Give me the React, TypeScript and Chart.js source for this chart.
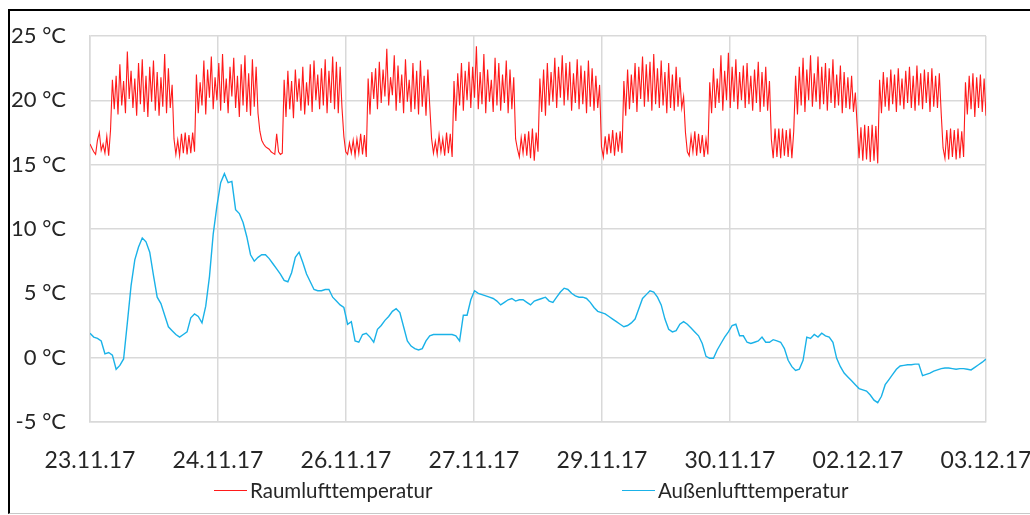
import React, { useEffect, useRef } from "react";
import { Chart, registerables } from "chart.js";

Chart.register(...registerables);

// X-axis tick labels (evenly spaced across the 240-hour span)
const xTickLabels = [
  "23.11.17",
  "24.11.17",
  "26.11.17",
  "27.11.17",
  "29.11.17",
  "30.11.17",
  "02.12.17",
  "03.12.17",
];

const TOTAL_HOURS = 240;
const Y_MIN = -5;
const Y_MAX = 25;
const Y_STEP = 5;

const seriesNames = ["Raumlufttemperatur", "Außenlufttemperatur"];
const seriesColors = ["#ff1a1a", "#1ab2e8"];

// Raumlufttemperatur, half-hourly samples (°C)
const raumluft = [
  // night 23.11.
  16.6, 16.3, 16.0, 15.8, 16.9, 17.5, 16.1, 16.6, 15.9, 17.2, 15.7, 17.7,
  // day
  21.6, 19.3, 21.9, 18.9, 22.8, 19.6, 21.5, 19.0, 23.8, 20.1, 22.3, 19.4, 21.7, 18.8, 22.9, 19.7,
  23.2, 19.1, 21.9, 18.7, 22.6, 19.9, 23.1, 19.2, 22.2, 18.8, 21.8, 19.5, 23.6, 19.0, 22.5, 19.4, 21.2,
  // night
  17.0, 15.8, 16.9, 15.7, 17.4, 15.9, 17.5, 15.8, 17.3, 15.9, 17.5, 16.0,
  // day
  22.0, 19.0, 21.4, 19.6, 23.1, 18.9, 22.4, 20.2, 23.4, 19.3, 21.8, 20.0, 22.9, 19.2, 23.6, 19.8,
  21.7, 19.0, 22.6, 20.3, 23.3, 19.4, 21.9, 18.7, 22.8, 19.6, 23.5, 19.1, 22.1, 18.8, 23.2, 19.5, 22.6, 19.0,
  // night
  17.6, 16.9, 16.6, 16.4, 16.3, 16.2, 16.0, 15.9, 15.8, 17.4, 16.0, 15.8, 15.9,
  // day
  21.6, 18.7, 22.3, 19.3, 21.5, 18.6, 22.4, 19.9, 21.7, 19.2, 22.6, 18.9, 21.4, 19.6, 22.8, 19.1,
  23.1, 20.0, 22.0, 19.3, 22.5, 19.6, 23.2, 19.0, 22.3, 19.8, 23.4, 19.3, 23.0, 19.0, 22.6, 19.4,
  // night
  17.2, 16.0, 15.8, 16.7, 15.9, 16.9, 15.7, 17.0, 15.9, 17.4, 15.8, 17.3, 15.6,
  // day
  21.7, 18.9, 22.2, 20.1, 22.5, 19.3, 23.0, 19.8, 22.4, 20.3, 24.0, 19.6, 21.8, 20.4, 23.5, 19.2,
  22.7, 19.8, 22.0, 19.0, 23.2, 19.9, 21.6, 19.1, 22.9, 19.3, 22.3, 18.9, 23.1, 19.5, 21.9, 18.8, 22.4, 19.6,
  // night
  17.0, 15.9, 16.8, 15.8, 17.3, 16.0, 17.0, 15.7, 17.5, 15.9, 17.4, 15.6,
  // day
  21.5, 18.4, 22.1, 19.6, 22.9, 19.2, 22.3, 20.0, 23.0, 19.4, 22.6, 20.2, 24.2, 19.3, 22.2, 19.7,
  23.6, 19.0, 22.4, 19.9, 21.6, 19.1, 23.3, 19.6, 22.9, 19.2, 22.0, 19.8, 23.1, 19.0, 22.4, 19.3, 21.8,
  // night
  17.0, 16.2, 15.6, 17.1, 15.9, 17.4, 15.7, 17.6, 15.5, 17.8, 15.3, 17.5, 16.0,
  // day
  21.7, 19.1, 22.4, 18.8, 22.9, 19.6, 22.2, 19.9, 23.3, 19.4, 22.6, 20.2, 23.5, 19.6, 22.9, 20.0,
  23.0, 19.2, 22.1, 19.8, 23.2, 19.3, 22.7, 19.7, 22.3, 19.0, 23.1, 19.5, 22.5, 19.2, 21.9, 19.4, 21.2,
  // night
  16.4, 15.6, 17.2, 15.8, 17.4, 15.9, 17.7, 15.7, 17.5, 16.0, 17.6, 15.9,
  // day
  21.5, 18.8, 22.4, 19.3, 22.0, 19.8, 22.9, 19.1, 22.6, 20.1, 23.4, 19.5, 22.8, 19.9, 23.0, 19.2,
  23.6, 19.7, 22.5, 19.4, 23.1, 19.6, 22.2, 19.0, 22.9, 19.4, 22.0, 19.2, 22.6, 19.5, 21.8, 19.4, 20.3,
  // night
  17.5, 16.0, 15.7, 17.2, 16.0, 17.6, 15.7, 17.4, 15.9, 17.3, 15.6, 17.0, 15.8,
  // day
  21.4, 19.0, 22.5, 19.4, 21.7, 19.8, 23.5, 19.2, 22.3, 20.0, 23.7, 19.4, 22.6, 19.9, 23.2, 19.3,
  22.2, 20.0, 22.7, 19.4, 22.9, 19.7, 21.9, 19.2, 22.4, 19.8, 23.0, 19.1, 22.2, 19.5, 22.6, 19.2, 21.5,
  // night
  17.0, 15.5, 17.8, 15.6, 17.8, 15.5, 17.8, 15.7, 17.7, 15.6, 17.8, 15.5, 17.6,
  // day
  21.9, 18.9, 22.6, 19.6, 23.3, 19.1, 22.4, 20.0, 23.5, 19.5, 22.1, 19.9, 23.4, 19.3, 22.6, 19.7,
  22.9, 19.2, 22.5, 19.8, 23.2, 19.4, 22.0, 19.6, 22.7, 19.0, 22.2, 19.4, 21.8, 19.3, 21.9, 19.1, 20.6,
  // night
  18.0, 15.5, 17.9, 15.3, 18.1, 15.4, 18.0, 15.2, 18.1, 15.3, 18.0, 15.1,
  // day
  21.6, 19.0, 22.2, 19.5, 21.8, 19.2, 22.4, 19.7, 22.0, 19.1, 22.5, 19.6, 21.7, 19.3, 22.3, 19.8,
  22.6, 19.4, 21.9, 19.2, 22.7, 19.6, 22.1, 19.3, 22.4, 19.8, 22.2, 19.1, 22.5, 19.5, 21.9, 19.4, 22.1, 19.0,
  // night
  16.3, 15.5, 17.7, 15.4, 17.8, 15.6, 17.7, 15.4, 17.8, 15.5, 17.6, 15.6,
  // day (03.12.)
  21.4, 18.9, 21.9, 19.3, 22.1, 18.7, 21.8, 19.4, 22.0, 19.1, 21.7, 18.8,
];

// Außenlufttemperatur, hourly samples (°C)
const aussenluft = [
  1.9, 1.6, 1.5, 1.3, 0.3, 0.4, 0.2, -0.9, -0.6, -0.1,
  2.7, 5.6, 7.6, 8.6, 9.3, 9.0, 8.2, 6.4, 4.7, 4.2,
  3.3, 2.4, 2.1, 1.8, 1.6, 1.8, 2.0, 3.1, 3.4, 3.2,
  2.7, 4.0, 6.3, 9.6, 11.8, 13.6, 14.3, 13.6, 13.7, 11.5,
  11.2, 10.5, 9.4, 8.0, 7.5, 7.8, 8.0, 8.0, 7.7, 7.3,
  6.9, 6.5, 6.0, 5.9, 6.6, 7.8, 8.2, 7.4, 6.5, 5.9,
  5.3, 5.2, 5.2, 5.3, 5.3, 4.7, 4.4, 4.1, 3.9, 2.6,
  2.8, 1.3, 1.2, 1.8, 1.9, 1.6, 1.2, 2.2, 2.5, 2.9,
  3.2, 3.6, 3.8, 3.5, 2.4, 1.3, 0.9, 0.7, 0.6, 0.7,
  1.3, 1.7, 1.8, 1.8, 1.8, 1.8, 1.8, 1.8, 1.7, 1.3,
  3.3, 3.3, 4.5, 5.2, 5.0, 4.9, 4.8, 4.7, 4.6, 4.4,
  4.1, 4.3, 4.5, 4.6, 4.4, 4.5, 4.5, 4.3, 4.1, 4.4,
  4.5, 4.6, 4.7, 4.4, 4.3, 4.7, 5.1, 5.4, 5.3, 5.0,
  4.8, 4.7, 4.7, 4.6, 4.3, 3.9, 3.6, 3.5, 3.4, 3.2,
  3.0, 2.8, 2.6, 2.4, 2.5, 2.7, 3.0, 3.8, 4.6, 4.9,
  5.2, 5.1, 4.7, 4.1, 3.0, 2.2, 2.0, 2.1, 2.6, 2.8,
  2.6, 2.3, 2.0, 1.7, 1.1, 0.1, -0.05, -0.05, 0.6, 1.1,
  1.6, 2.0, 2.5, 2.6, 1.7, 1.7, 1.2, 1.1, 1.2, 1.3,
  1.6, 1.2, 1.2, 1.4, 1.3, 1.2, 0.7, -0.2, -0.7, -1.0,
  -0.9, -0.2, 1.6, 1.5, 1.8, 1.6, 1.9, 1.7, 1.6, 1.2,
  -0.05, -0.7, -1.2, -1.5, -1.8, -2.1, -2.4, -2.5, -2.6, -2.9,
  -3.3, -3.5, -3.0, -2.1, -1.7, -1.3, -0.9, -0.65, -0.6, -0.55,
  -0.55, -0.5, -0.5, -1.4, -1.3, -1.2, -1.05, -0.95, -0.85, -0.8,
  -0.8, -0.85, -0.9, -0.85, -0.85, -0.9, -0.95, -0.75, -0.55, -0.35, -0.1,
];

const FONT = "Lato, 'Open Sans', sans-serif";
const TEXT_COLOR = "#262626";
const GRID_COLOR = "#d9d9d9";

export default function App() {
  const canvasRef = useRef<HTMLCanvasElement | null>(null);

  useEffect(() => {
    const canvas = canvasRef.current;
    if (!canvas) return;
    const redStep = TOTAL_HOURS / (raumluft.length - 1);
    const blueStep = TOTAL_HOURS / (aussenluft.length - 1);
    const xStep = TOTAL_HOURS / (xTickLabels.length - 1);

    const chart = new Chart(canvas, {
      type: "line",
      data: {
        datasets: [
          {
            label: seriesNames[0],
            data: raumluft.map((v, i) => ({ x: i * redStep, y: v })),
            borderColor: seriesColors[0],
            borderWidth: 1.1,
            pointRadius: 0,
            tension: 0,
          },
          {
            label: seriesNames[1],
            data: aussenluft.map((v, i) => ({ x: i * blueStep, y: v })),
            borderColor: seriesColors[1],
            borderWidth: 1.4,
            pointRadius: 0,
            tension: 0,
          },
        ],
      },
      options: {
        animation: false,
        responsive: false,
        devicePixelRatio: 1,
        layout: { padding: { top: 25, right: 44, bottom: 0, left: 0 } },
        plugins: {
          legend: { display: false },
          tooltip: { enabled: false },
        },
        scales: {
          x: {
            type: "linear",
            min: 0,
            max: TOTAL_HOURS,
            afterBuildTicks: (scale: any) => {
              scale.ticks = xTickLabels.map((_, i) => ({ value: i * xStep }));
            },
            afterFit: (scale: any) => {
              scale.height = 89;
              scale.paddingLeft = 0;
              scale.paddingRight = 0;
            },
            ticks: {
              autoSkip: false,
              maxRotation: 0,
              padding: 25,
              color: TEXT_COLOR,
              font: { family: FONT, size: 23 },
              callback: (_v: any, i: number) => xTickLabels[i],
            },
            grid: { color: GRID_COLOR, lineWidth: 1.5, drawTicks: false },
            border: { color: GRID_COLOR, width: 1.5 },
          },
          y: {
            min: Y_MIN,
            max: Y_MAX,
            afterFit: (scale: any) => {
              scale.width = 80;
              scale.paddingTop = 0;
              scale.paddingBottom = 0;
            },
            ticks: {
              stepSize: Y_STEP,
              padding: 24,
              color: TEXT_COLOR,
              font: { family: FONT, size: 22 },
              callback: (v: any) => `${v} °C`,
            },
            grid: { color: GRID_COLOR, lineWidth: 1.5, drawTicks: false },
            border: { color: GRID_COLOR, width: 1.5 },
          },
        },
      },
    });
    return () => chart.destroy();
  }, []);

  const legendPos = [
    { left: 204, top: 467 },
    { left: 612, top: 467 },
  ];

  return (
    <div
      style={{
        position: "absolute",
        left: 8,
        top: 9,
        width: 1022,
        height: 505,
        boxSizing: "border-box",
        borderLeft: "2px solid #000",
        borderTop: "2px solid #000",
        borderBottom: "1px solid #c8c8c8",
        background: "#fff",
        overflow: "hidden",
      }}
    >
      <canvas
        ref={canvasRef}
        width={1020}
        height={500}
        style={{ position: "absolute", left: 0, top: 0, width: 1020, height: 500 }}
      />
      {seriesNames.map((name, i) => (
        <div
          key={name}
          style={{
            position: "absolute",
            left: legendPos[i].left,
            top: legendPos[i].top,
            display: "flex",
            alignItems: "center",
            height: 24,
            fontFamily: FONT,
            fontSize: 20.5,
            color: TEXT_COLOR,
            whiteSpace: "nowrap",
          }}
        >
          <span
            style={{
              display: "inline-block",
              width: 33,
              height: 0,
              borderTop: `1.5px solid ${seriesColors[i]}`,
              marginRight: 3,
            }}
          />
          <span>{name}</span>
        </div>
      ))}
    </div>
  );
}
